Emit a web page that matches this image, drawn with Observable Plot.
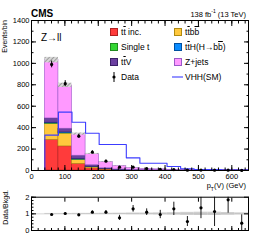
<!DOCTYPE html>
<html><head><meta charset="utf-8">
<script src="https://cdn.jsdelivr.net/npm/d3@7"></script>
<script src="https://cdn.jsdelivr.net/npm/@observablehq/plot@0.6"></script>
<style>
body{margin:0;background:#fff;}
#wrap{position:relative;width:258px;height:240px;font-family:"Liberation Sans",Arial,sans-serif;overflow:hidden;background:#fff;}
#wrap svg{position:absolute;left:0;}
.t{position:absolute;white-space:nowrap;line-height:1;color:#000;}
.box{position:absolute;width:8px;height:8px;box-sizing:border-box;border:1px solid;}
.ov{text-decoration:overline;}
</style></head><body><div id="wrap"></div>
<script>
// ---- data ----
const binEdges = [40, 80.67, 121.33, 162, 202.67, 243.33, 284, 324.67, 365.33, 406, 446.67, 487.33, 528, 568.67, 609.33, 650];
const procKeys = ["ttInc", "ttbb", "singleT", "ttH", "ttV", "zjets"]; // stack order bottom -> top
const ttInc   = [286, 225, 62, 20, 8, 3, 1.5, 1, 0.5, 0.3, 0.2, 0.1, 0.1, 0.05, 0.05];
const ttbb    = [150, 120, 38, 10, 4, 2, 1, 0.5, 0.4, 0.2, 0.1, 0.1, 0.05, 0.05, 0.02];
const singleT = [4, 3, 3, 1, 0.5, 0.3, 0.2, 0.1, 0.1, 0, 0, 0, 0, 0, 0];
const ttH     = [6, 8, 5, 3, 1, 0.6, 0.4, 0.3, 0.2, 0.15, 0.1, 0.05, 0.05, 0.02, 0.02];
const ttV     = [40, 34, 30, 15, 7, 4, 3, 2, 1.5, 1.2, 1, 0.8, 0.6, 0.4, 0.3];
const zjets   = [544, 405, 202, 106, 58, 31, 18, 12, 8, 5, 3.5, 2.5, 1.8, 1.2, 0.8];
const vhh     = [330, 545, 450, 348, 243, 243, 118, 68, 68, 37, 16, 10, 8, 5, 4];
const dataVals = [990, 810, 320, 171, 87, 31, 31, 18, 10, 8.5, 2.7, 4, 2.6, 2.6, 0.5];
const ratioVals = [0.96, 1.02, 0.94, 1.10, 1.10, 0.76, 1.30, 1.10, 0.96, 1.30, 0.54, 1.36, 1.14, 1.84, 0.44];
const ratioErr  = [0.03, 0.04, 0.05, 0.08, 0.10, 0.15, 0.2, 0.2, 0.25, 0.4, 0.3, 0.65, 0.9, 0.8, 0.5];
const bandErr   = [0.025, 0.025, 0.03, 0.03, 0.035, 0.04, 0.05, 0.05, 0.06, 0.07, 0.09, 0.1, 0.1, 0.08, 0.06];
const xTickLabels = [0, 100, 200, 300, 400, 500, 600];
const yTickLabels = [0, 200, 400, 600, 800, 1000, 1200, 1400];
const rTickLabels = [0, 1, 2];

const fills  = {ttInc:"#ff3b3b", ttbb:"#ffc83d", singleT:"#33d633", ttH:"#0a8cff", ttV:"#6b3fa0", zjets:"#ff99ff"};
const strokes= {ttInc:"#b02020", ttbb:"#b08a10", singleT:"#208a20", ttH:"#0050a0", ttV:"#3a1f66", zjets:"#9a5ac8"};
const series = {ttInc, ttbb, singleT, ttH, ttV, zjets};

// ---- derived tables ----
const bins = d3.range(binEdges.length - 1).map(i => ({i, x1: binEdges[i], x2: binEdges[i+1], xc: (binEdges[i] + binEdges[i+1]) / 2}));
const stackRows = [];
bins.forEach(b => {
  let acc = 0;
  procKeys.forEach(k => {
    const v = series[k][b.i];
    stackRows.push({proc: k, x1: b.x1, x2: b.x2, y1: acc, y2: acc + v});
    acc += v;
  });
  b.total = acc;
  b.data = dataVals[b.i];
  b.ratio = ratioVals[b.i];
  b.rerr = ratioErr[b.i];
  b.band = bandErr[b.i];
  b.vhh = vhh[b.i];
});
const vhhPts = [{x: binEdges[0], y: 0}];
bins.forEach(b => { vhhPts.push({x: b.x1, y: b.vhh}); vhhPts.push({x: b.x2, y: b.vhh}); });

const font = '"Liberation Sans", Arial, sans-serif';
const blank = () => "";
const intFmt = d3.format("d");
const xMinor = d3.range(0, 651, 20);
const yMinor = d3.range(0, 1401, 100);

const main = Plot.plot({
  width: 258, height: 192,
  marginLeft: 31, marginRight: 10, marginTop: 20, marginBottom: 22,
  style: {fontFamily: font, fontSize: "7.5px", background: "transparent", color: "#000"},
  x: {domain: [0, 650]},
  y: {domain: [0, 1400]},
  marks: [
    Plot.rect(stackRows, {x1: "x1", x2: "x2", y1: "y1", y2: "y2", fill: d => fills[d.proc], stroke: d => strokes[d.proc], strokeWidth: 0.6}),
    Plot.rect(bins, {x1: "x1", x2: "x2", y1: d => d.total * (1 - d.band), y2: d => d.total * (1 + d.band), fill: "url(#hatch)", stroke: "none"}),
    Plot.line(vhhPts, {x: "x", y: "y", stroke: "#3c3cff", strokeWidth: 1.1}),
    Plot.ruleX(bins, {x: "xc", y1: d => d.data - Math.sqrt(d.data), y2: d => d.data + Math.sqrt(d.data), stroke: "#000", strokeWidth: 1}),
    Plot.dot(bins, {x: "xc", y: "data", r: 1.6, fill: "#000", stroke: "none"}),
    Plot.axisX({ticks: xTickLabels, tickSize: 0, tickPadding: 3, tickFormat: intFmt, label: null}),
    Plot.axisX({ticks: xTickLabels, tickSize: -5, tickFormat: blank, label: null}),
    Plot.axisX({ticks: xMinor, tickSize: -2.5, tickFormat: blank, label: null}),
    Plot.axisX({anchor: "top", ticks: xTickLabels, tickSize: -5, tickFormat: blank, label: null}),
    Plot.axisX({anchor: "top", ticks: xMinor, tickSize: -2.5, tickFormat: blank, label: null}),
    Plot.axisY({ticks: yTickLabels, tickSize: 0, tickPadding: 2, tickFormat: intFmt, label: null}),
    Plot.axisY({ticks: yTickLabels, tickSize: -5, tickFormat: blank, label: null}),
    Plot.axisY({ticks: yMinor, tickSize: -2.5, tickFormat: blank, label: null}),
    Plot.axisY({anchor: "right", ticks: yTickLabels, tickSize: -5, tickFormat: blank, label: null}),
    Plot.axisY({anchor: "right", ticks: yMinor, tickSize: -2.5, tickFormat: blank, label: null}),
    Plot.frame({stroke: "#000", strokeWidth: 1})
  ]
});
// hatch pattern
d3.select(main).insert("defs", ":first-child").html(
  '<pattern id="hatch" width="3" height="3" patternUnits="userSpaceOnUse" patternTransform="rotate(45)"><rect width="3" height="3" fill="#d8d8d8"/><line x1="0" y1="0" x2="0" y2="3" stroke="#777" stroke-width="1.2"/></pattern>'
);
main.style.top = "0px";

const ratio = Plot.plot({
  width: 258, height: 50,
  marginLeft: 31, marginRight: 10, marginTop: 6.7, marginBottom: 10,
  style: {fontFamily: font, fontSize: "7.5px", background: "transparent", color: "#000"},
  x: {domain: [0, 650]},
  y: {domain: [0, 2]},
  marks: [
    Plot.rect(bins, {x1: "x1", x2: "x2", y1: d => 1 - d.band, y2: d => 1 + d.band, fill: "#cfcfcf", stroke: "none"}),
    Plot.ruleY([1], {stroke: "#bbb", strokeWidth: 0.6}),
    Plot.ruleX(bins, {x: "xc", y1: d => d.ratio - d.rerr, y2: d => d.ratio + d.rerr, stroke: "#000", strokeWidth: 0.9, clip: true}),
    Plot.dot(bins, {x: "xc", y: "ratio", r: 1.6, fill: "#000", stroke: "none"}),
    Plot.axisX({ticks: xTickLabels, tickSize: -4, tickFormat: blank, label: null}),
    Plot.axisX({ticks: xMinor, tickSize: -2, tickFormat: blank, label: null}),
    Plot.axisX({anchor: "top", ticks: xTickLabels, tickSize: -4, tickFormat: blank, label: null}),
    Plot.axisY({ticks: rTickLabels, tickSize: 0, tickPadding: 2, tickFormat: intFmt, label: null}),
    Plot.axisY({ticks: rTickLabels, tickSize: -5, tickFormat: blank, label: null}),
    Plot.axisY({ticks: d3.range(0, 2.01, 0.2), tickSize: -2.5, tickFormat: blank, label: null}),
    Plot.axisY({anchor: "right", ticks: rTickLabels, tickSize: -5, tickFormat: blank, label: null}),
    Plot.frame({stroke: "#000", strokeWidth: 1})
  ]
});
ratio.style.top = "190px";

const wrap = document.getElementById("wrap");
wrap.appendChild(main);
wrap.appendChild(ratio);

function addText(html, css) {
  const d = document.createElement("div");
  d.className = "t";
  d.innerHTML = html;
  Object.assign(d.style, css);
  wrap.appendChild(d);
  return d;
}
addText("CMS", {left: "31px", top: "9px", fontSize: "10px", fontWeight: "bold"});
addText("138 fb<sup style='font-size:5px'>-1</sup> (13 TeV)", {right: "12px", top: "9px", fontSize: "7.5px"});
addText("Z→ll", {left: "41px", top: "33px", fontSize: "10px"});
addText("Events/bin", {left: "1px", top: "20px", fontSize: "7px", writingMode: "vertical-rl", transform: "rotate(180deg)"});
addText("Data/Bkgd.", {left: "2px", top: "190px", fontSize: "7px", writingMode: "vertical-rl", transform: "rotate(180deg)"});
addText("p<sub style='font-size:5px'>T</sub>(V) (GeV)", {right: "12px", top: "182px", fontSize: "7.5px"});

// legend
const legCols = [["ttInc", "singleT", "ttV"], ["ttbb", "ttH", "zjets"]];
const colX = [110, 174];
const rowY = [28, 43, 58];
const legHtml = {ttInc: "t<span class='ov'>t</span> inc.", ttbb: "t<span class='ov'>t</span>b<span class='ov'>b</span>", singleT: "Single t",
  ttH: "t<span class='ov'>t</span>H(H→b<span class='ov'>b</span>)", ttV: "t<span class='ov'>t</span>V", zjets: "Z+jets"};
legCols.forEach((col, ci) => col.forEach((k, ri) => {
  const b = document.createElement("div");
  b.className = "box";
  Object.assign(b.style, {left: colX[ci] + "px", top: rowY[ri] + "px", background: fills[k], borderColor: strokes[k]});
  wrap.appendChild(b);
  addText(legHtml[k], {left: (colX[ci] + 11) + "px", top: (rowY[ri] - 0.5) + "px", fontSize: "8.5px"});
}));
// data legend entry
const dl = document.createElement("div");
dl.innerHTML = "<svg width='10' height='12'><line x1='5' y1='1' x2='5' y2='11' stroke='#000' stroke-width='1'/><circle cx='5' cy='6' r='1.6' fill='#000'/></svg>";
Object.assign(dl.style, {position: "absolute", left: "109px", top: "71px"});
wrap.appendChild(dl);
addText("Data", {left: "121px", top: "73px", fontSize: "8.5px"});
const vl = document.createElement("div");
vl.innerHTML = "<svg width='12' height='4'><line x1='0' y1='2' x2='11' y2='2' stroke='#3c3cff' stroke-width='1.1'/></svg>";
Object.assign(vl.style, {position: "absolute", left: "172px", top: "75px"});
wrap.appendChild(vl);
addText("VHH(SM)", {left: "185px", top: "73px", fontSize: "8.5px"});
</script></body></html>
